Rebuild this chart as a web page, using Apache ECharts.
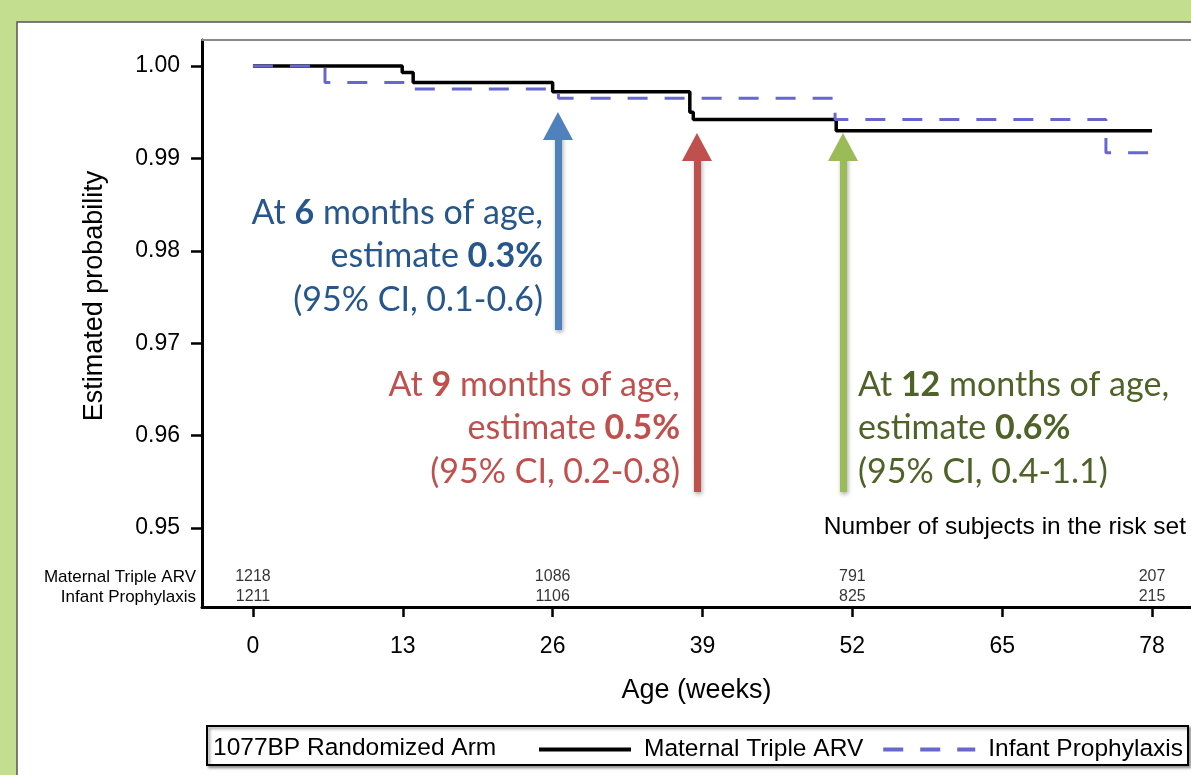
<!DOCTYPE html>
<html>
<head>
<meta charset="utf-8">
<script src="https://cdn.jsdelivr.net/npm/echarts@6/dist/echarts.min.js"></script>
<style>
html,body{margin:0;padding:0;background:#c4de8f;}
#chart{width:1191px;height:775px;}
</style>
</head>
<body>
<div id="chart"></div>
<script>
// ---- Data ----
const maternalWeeks = [0, 12.95, 13.9, 26.0, 37.9, 38.2, 50.6, 78];
const maternalSurv  = [1.0000, 0.9993, 0.9982, 0.9972, 0.9950, 0.9942, 0.9930, 0.9930];
const infantWeeks   = [0, 6.25, 13.9, 26.5, 50.5, 74.0, 78];
const infantSurv    = [1.0000, 0.9982, 0.9975, 0.9965, 0.9942, 0.9906, 0.9906];

const xTicks = [0, 13, 26, 39, 52, 65, 78];
const yTicks = [0.95, 0.96, 0.97, 0.98, 0.99, 1.00];

const riskWeeks    = [0, 26, 52, 78];
const riskMaternal = [1218, 1086, 791, 207];
const riskInfant   = [1211, 1106, 825, 215];

const seriesNames = ['Maternal Triple ARV', 'Infant Prophylaxis'];

// ---- Layout helpers ----
const X_MIN = -4.42, X_MAX = 81.38;
const Y_MIN = 0.94145, Y_MAX = 1.00281;
const G_TOP = 40, G_H = 567;
const yAt = py => Y_MAX - (py - G_TOP) / G_H * (Y_MAX - Y_MIN);

const SAS = "'Liberation Sans', Arial, sans-serif";
const CAL = "Lato, 'Open Sans', sans-serif";

function arrow(x, tipPx, bottomPx, color) {
  return [{coord: [x, yAt(bottomPx)], lineStyle: {color: color}},
          {coord: [x, yAt(tipPx + 14)]}];
}

function annot(x, y, align, color, num, est, ci) {
  return {
    type: 'text', x: x, y: y, z: 100,
    style: {
      text: '{n|At }{b|' + num + '}{n| months of age,}\n{n|estimate }{b|' + est + '}\n{n|(95% CI, ' + ci + ')}',
      align: align, verticalAlign: 'top', lineHeight: 43.5,
      rich: {
        n: {fontFamily: CAL, fontSize: 34, fill: color, lineHeight: 43.5},
        b: {fontFamily: CAL, fontSize: 34, fontWeight: 'bold', fill: color, lineHeight: 43.5}
      }
    }
  };
}

const chart = echarts.init(document.getElementById('chart'));
const option = {
  animation: false,
  backgroundColor: '#c4de8f',
  grid: {left: 202, top: G_TOP, right: 0, height: G_H, containLabel: false},
  xAxis: [{
    type: 'value', min: X_MIN, max: X_MAX,
    name: 'Age (weeks)', nameLocation: 'middle', nameGap: 70,
    nameTextStyle: {fontFamily: SAS, fontSize: 27, color: '#000'},
    axisLine: {show: true, onZero: false, lineStyle: {color: '#000', width: 3}},
    axisTick: {show: true, customValues: xTicks, length: 10, lineStyle: {color: '#000', width: 2.5}},
    axisLabel: {customValues: xTicks, fontFamily: SAS, fontSize: 23, color: '#000', margin: 28},
    splitLine: {show: false}
  }, {
    type: 'value', min: X_MIN, max: X_MAX, position: 'top',
    axisLine: {show: true, onZero: false, lineStyle: {color: '#8a8a8a', width: 2}},
    axisTick: {show: false}, axisLabel: {show: false}, splitLine: {show: false}
  }],
  yAxis: {
    type: 'value', min: Y_MIN, max: Y_MAX,
    axisLine: {show: true, onZero: false, lineStyle: {color: '#000', width: 3}},
    axisTick: {show: true, customValues: yTicks, length: 11, lineStyle: {color: '#000', width: 2.5}},
    axisLabel: {customValues: yTicks, fontFamily: SAS, fontSize: 23, color: '#000', margin: 22,
                formatter: v => v.toFixed(2)},
    splitLine: {show: false}
  },
  legend: {
    data: seriesNames, left: 532, top: 732, itemWidth: 92, itemHeight: 14, itemGap: 18,
    selectedMode: false,
    itemStyle: {opacity: 0},
    lineStyle: {width: 4},
    textStyle: {fontFamily: SAS, fontSize: 24.5, color: '#000', padding: [0, 0, 0, 8]}
  },
  series: [{
    name: seriesNames[0], type: 'line', step: 'end', symbol: 'none', z: 3,
    lineStyle: {color: '#000', width: 3.5},
    itemStyle: {color: '#000'},
    data: maternalWeeks.map((w, i) => [w, maternalSurv[i]])
  }, {
    name: seriesNames[1], type: 'line', step: 'end', symbol: 'none', z: 4,
    lineStyle: {color: '#6767cf', width: 3, type: [20, 17]},
    itemStyle: {color: '#6767cf'},
    data: infantWeeks.map((w, i) => [w, infantSurv[i]])
  }, {
    name: 'risk', type: 'scatter', symbolSize: 1, itemStyle: {color: 'rgba(0,0,0,0)'},
    silent: true, z: 5,
    label: {show: true, position: 'inside', fontFamily: SAS, fontSize: 16, color: '#000',
            formatter: p => String(p.value[2])},
    data: riskWeeks.map((w, i) => [w, yAt(577), riskMaternal[i]])
      .concat(riskWeeks.map((w, i) => [w, yAt(597), riskInfant[i]]))
  }, {
    name: 'arrows', type: 'line', data: [], silent: true, z: 6,
    markLine: {
      silent: true, animation: false,
      symbol: ['none', 'triangle'], symbolSize: [30, 28],
      label: {show: false},
      lineStyle: {width: 7, type: 'solid', shadowBlur: 4, shadowColor: 'rgba(0,0,0,0.35)', shadowOffsetX: 1, shadowOffsetY: 2},
      data: [
        arrow(26.46, 112, 330, '#4f81bd'),
        arrow(38.52, 133, 492, '#c0504d'),
        arrow(51.19, 133, 492, '#9bbb59')
      ]
    }
  }],
  graphic: [
    {type: 'rect', z: -100, shape: {x: 17, y: 22, width: 1200, height: 800},
     style: {fill: '#fff', stroke: '#555', lineWidth: 1.5}},
    {type: 'text', x: 95, y: 296, rotation: Math.PI / 2, z: 100,
     style: {text: 'Estimated probability', fontFamily: SAS, fontSize: 27, fill: '#000', align: 'center', verticalAlign: 'middle'}},
    {type: 'text', x: 1186, y: 527, z: 100,
     style: {text: 'Number of subjects in the risk set', fontFamily: SAS, fontSize: 24.5, fill: '#000', align: 'right', verticalAlign: 'middle'}},
    {type: 'text', x: 196, y: 577, z: 100,
     style: {text: seriesNames[0], fontFamily: SAS, fontSize: 17, fill: '#000', align: 'right', verticalAlign: 'middle'}},
    {type: 'text', x: 196, y: 597, z: 100,
     style: {text: seriesNames[1], fontFamily: SAS, fontSize: 17, fill: '#000', align: 'right', verticalAlign: 'middle'}},
    {type: 'rect', z: 1, shape: {x: 207, y: 726, width: 981, height: 39},
     style: {fill: '#fff', stroke: '#000', lineWidth: 2, shadowBlur: 3, shadowOffsetX: 2, shadowOffsetY: 2, shadowColor: 'rgba(0,0,0,0.4)'}},
    {type: 'text', x: 213, y: 748, z: 100,
     style: {text: '1077BP Randomized Arm', fontFamily: SAS, fontSize: 24.5, fill: '#000', align: 'left', verticalAlign: 'middle'}},
    annot(543, 191, 'right', '#26568c', '6', '0.3%', '0.1-0.6'),
    annot(680, 363, 'right', '#c0504d', '9', '0.5%', '0.2-0.8'),
    annot(858, 363, 'left', '#4f6228', '12', '0.6%', '0.4-1.1')
  ]
};
chart.setOption(option);
</script>
</body>
</html>
